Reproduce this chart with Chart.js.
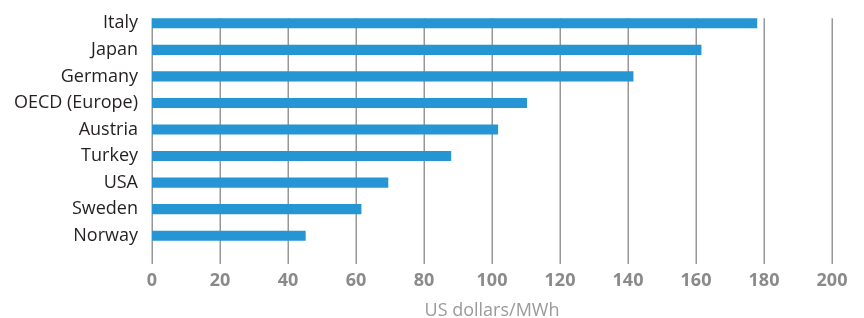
<!DOCTYPE html>
<html>
<head>
<meta charset="utf-8">
<script src="https://cdn.jsdelivr.net/npm/chart.js@4.4.1/dist/chart.umd.min.js"></script>
<style>
  html, body { margin: 0; padding: 0; background: #fff; }
  #wrap { width: 864px; height: 318px; }
</style>
</head>
<body>
<div id="wrap"><canvas id="priceChart"></canvas></div>
<script>
// electricity prices by country
const countries = ['Italy', 'Japan', 'Germany', 'OECD (Europe)', 'Austria', 'Turkey', 'USA', 'Sweden', 'Norway'];
const prices = [178, 161.6, 141.6, 110.3, 101.8, 88, 69.5, 61.6, 45.2];
const xTicks = [0, 20, 40, 60, 80, 100, 120, 140, 160, 180, 200];
const axisTitle = 'US dollars/MWh';

// vertical grid lines start at the top of the first bar and run a bit past the plot
const gridPlugin = {
  id: 'gridPlugin',
  beforeDatasetsDraw(chart) {
    const ctx = chart.ctx;
    const x = chart.scales.x;
    const first = chart.getDatasetMeta(0).data[0];
    const top = first.y - first.height / 2;
    const bottom = chart.chartArea.bottom + 15;
    ctx.save();
    ctx.strokeStyle = '#979797';
    ctx.lineWidth = 1.5;
    xTicks.forEach(function(v) {
      const px = Math.round(x.getPixelForValue(v)) + 0.25;
      ctx.beginPath();
      ctx.moveTo(px, top);
      ctx.lineTo(px, bottom);
      ctx.stroke();
    });
    ctx.restore();
  }
};

window.onload = function() {
  const ctx = document.getElementById('priceChart').getContext('2d');
  new Chart(ctx, {
    type: 'bar',
    data: {
      labels: countries,
      datasets: [{
        data: prices,
        backgroundColor: '#2596d3',
        borderWidth: 0,
        categoryPercentage: 1,
        barPercentage: 0.38
      }]
    },
    options: {
      indexAxis: 'y',
      responsive: true,
      maintainAspectRatio: false,
      animation: false,
      layout: { padding: { top: 10, right: 32, bottom: 0, left: 0 } },
      plugins: {
        legend: { display: false },
        tooltip: { enabled: false }
      },
      scales: {
        x: {
          min: 0,
          max: 200,
          afterBuildTicks: function(scale) {
            scale.ticks = xTicks.map(function(v) { return { value: v }; });
          },
          afterFit: function(scale) {
            scale.height = 69;
            scale.paddingLeft = 0;
            scale.paddingRight = 0;
          },
          grid: { display: false, drawTicks: false },
          border: { display: false },
          ticks: {
            color: '#8a8a8a',
            padding: 21,
            font: { family: 'Open Sans', size: 18, weight: 'bold' }
          },
          title: {
            display: true,
            text: axisTitle,
            color: '#9a9a9a',
            padding: { top: 0, bottom: -4 },
            font: { family: 'Open Sans', size: 18 }
          }
        },
        y: {
          afterFit: function(scale) {
            scale.width = 152;
            scale.paddingTop = 0;
            scale.paddingBottom = 0;
          },
          grid: { display: false, drawTicks: false },
          border: { display: false },
          ticks: {
            color: '#231f20',
            padding: 14,
            font: { family: 'Open Sans', size: 18 }
          }
        }
      }
    },
    plugins: [gridPlugin]
  });
};
</script>
</body>
</html>
